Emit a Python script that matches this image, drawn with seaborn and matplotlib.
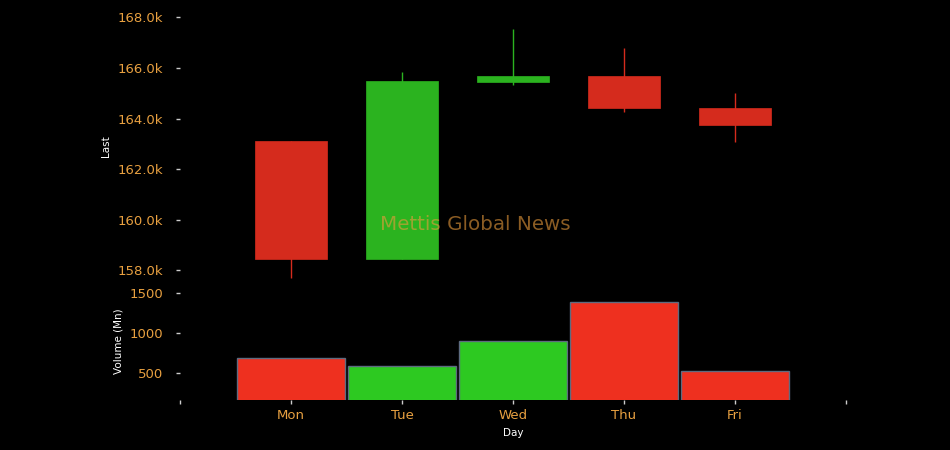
import numpy as np
import pandas as pd
import matplotlib
matplotlib.use("Agg")
import matplotlib.pyplot as plt
import seaborn as sns
from matplotlib.ticker import FuncFormatter

days = ["Mon", "Tue", "Wed", "Thu", "Fri"]
open_px = [163120, 158440, 165460, 165670, 164430]
close_px = [158440, 165500, 165670, 164420, 163750]
high_px = [163120, 165860, 167550, 166810, 165010]
low_px = [157680, 158440, 165330, 164260, 163090]
volume = [687, 587, 900, 1387, 525]

RED_BODY = "#D52B1D"
GREEN_BODY = "#2BB31F"
RED_VOL = "#EE301F"
GREEN_VOL = "#2DC921"
TICK_COL = "#E8A040"

sns.set_style("dark", {"axes.facecolor": "black", "figure.facecolor": "black"})
plt.rcParams["font.family"] = ["DejaVu Sans"]

df = pd.DataFrame({
    "day": days,
    "pos": np.arange(1, len(days) + 1),
    "open": open_px,
    "close": close_px,
    "high": high_px,
    "low": low_px,
    "volume": volume,
})
df["dir"] = np.where(df["close"] >= df["open"], "up", "down")
colors_body = df["dir"].map({"up": GREEN_BODY, "down": RED_BODY})

fig = plt.figure(figsize=(9.5, 4.5), dpi=100)
ax_top = fig.add_axes([0.1895, 0.111 + 0.867 * 0.3, 0.701, 0.867 * 0.7])
ax_vol = fig.add_axes([0.1895, 0.111, 0.701, 0.867 * 0.3], sharex=ax_top)

# velas
ax_top.vlines(df["pos"], df["low"], df["high"], colors=colors_body, linewidth=1, zorder=1)
ax_top.bar(df["pos"], df["close"] - df["open"], bottom=df["open"], width=0.65,
           color=colors_body, edgecolor=colors_body, linewidth=0.5, zorder=2)
ax_top.set_ylim(157500, 168300)
ax_top.yaxis.set_major_formatter(FuncFormatter(lambda v, _: f"{v / 1000:.1f}k"))
ax_top.set_yticks(np.arange(158000, 168001, 2000))
ax_top.set_ylabel("Last", color="white", fontsize=7.5)
ax_top.tick_params(axis="x", which="both", bottom=False, labelbottom=False)

# volume
sns.barplot(data=df, x="pos", y="volume", hue="dir", native_scale=True,
            palette={"up": GREEN_VOL, "down": RED_VOL}, width=0.98, dodge=False,
            saturation=1, edgecolor="#5d6b80", linewidth=1, legend=False, ax=ax_vol)
ax_vol.set_ylim(160, 1622)
ax_vol.set_yticks([500, 1000, 1500])
ax_vol.set_ylabel("Volume (Mn)", color="white", fontsize=7.5)
ax_vol.set_xlabel("Day", color="white", fontsize=7.5)
ax_vol.set_xlim(0, len(days) + 1)
ax_vol.set_xticks(np.arange(0, len(days) + 2))
ax_vol.set_xticklabels([""] + days + [""])

for ax in (ax_top, ax_vol):
    ax.set_facecolor("black")
    ax.grid(False)
    for s in ax.spines.values():
        s.set_visible(False)
    ax.tick_params(axis="y", colors="#cccccc", labelcolor=TICK_COL, labelsize=9.5,
                   direction="out", length=3, width=1, left=True, pad=9)
ax_vol.tick_params(axis="x", colors="#cccccc", labelcolor=TICK_COL, labelsize=9.5,
                   direction="out", length=3, width=1, bottom=True)
ax_top.yaxis.set_label_coords(-0.103, 0.5)
ax_vol.yaxis.set_label_coords(-0.085, 0.5)

fig.text(0.5, 0.502, "Mettis Global News", ha="center", va="center",
         fontsize=14.3, color="#E89A3C", alpha=0.6)

fig.savefig("out.png", dpi=100, facecolor="black")
